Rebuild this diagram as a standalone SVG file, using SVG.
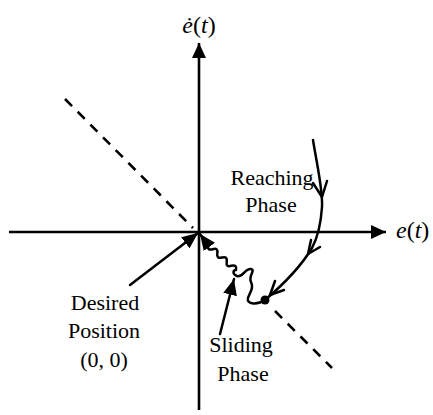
<svg xmlns="http://www.w3.org/2000/svg" width="433" height="415" viewBox="0 0 433 415">
<style>
.ln{fill:none;stroke:#000;stroke-width:2.6}
.thin{fill:none;stroke:#000;stroke-width:2.5;stroke-linecap:round;stroke-linejoin:round}
.dash{fill:none;stroke:#000;stroke-width:2.6;stroke-dasharray:10 8}
.t{font-family:"Liberation Serif","Times New Roman",serif;font-size:22px;fill:#000}
.m{font-family:"Liberation Serif","Times New Roman",serif;font-size:24px;fill:#000}
</style>
<defs>
<marker id="ah" markerUnits="userSpaceOnUse" markerWidth="16" markerHeight="14" refX="15" refY="7" orient="auto">
<path d="M0,0 L15,7 L0,14 Z" fill="#000"/>
</marker>
<marker id="ahs" markerUnits="userSpaceOnUse" markerWidth="17" markerHeight="14" refX="16" refY="7" orient="auto">
<path d="M0,0 L16,7 L0,14 Z" fill="#000"/>
</marker>
</defs>
<g id="axes">
<line class="ln" x1="9" y1="232" x2="386" y2="232" marker-end="url(#ah)"/>
<line class="ln" x1="199" y1="410" x2="199" y2="43" marker-end="url(#ah)"/>
<text class="m" x="396" y="238"><tspan font-style="italic">e</tspan>(<tspan font-style="italic">t</tspan>)</text>
<text class="m" x="199" y="33" text-anchor="middle"><tspan font-style="italic">ė</tspan>(<tspan font-style="italic">t</tspan>)</text>
</g>
<g id="sliding-surface">
<line class="dash" x1="65" y1="99" x2="193" y2="228"/>
<line class="dash" x1="275" y1="311" x2="332" y2="368"/>
</g>
<g id="connectors">
<path id="reaching-curve" class="thin" d="M313,140 C317,165 323,190 322,207 C321,222 319,235 312,248 C300,268 285,283 265,300"/>
<path class="thin" d="M313,183 L322,197 L327,181"/>
<path class="thin" d="M311,240 L308,254 L320,247"/>
<path class="thin" d="M275,281 L270,295 L284,290"/>
<path id="sliding-curve" class="thin" d="M265,300 C258,305 246,305 248,298 C250,292 254,288 251,282 C248,276 256,270 251,269 C245,268 243,278 237,276 C232,274 233,270 236,270 Q237,264.2 231.3,265.8 Q225.7,267.5 226.7,261.7 Q227.6,255.9 222,257.5 Q216.4,259.1 217.3,253.3 Q218.3,247.5 212.7,249.2 Q207,250.8 208,245 L200,234" marker-end="url(#ahs)"/>
<circle cx="265" cy="300" r="4.5" fill="#000"/>
<line class="thin" x1="130" y1="285" x2="198" y2="233" marker-end="url(#ahs)"/>
<line class="thin" x1="220" y1="334" x2="234" y2="279" marker-end="url(#ahs)"/>
</g>
<g id="label-reaching">
<text class="t" x="272" y="185" text-anchor="middle">Reaching</text>
<text class="t" x="271" y="212" text-anchor="middle">Phase</text>
</g>
<g id="label-desired">
<text class="t" x="105" y="310" text-anchor="middle">Desired</text>
<text class="t" x="104" y="338" text-anchor="middle">Position</text>
<text class="t" x="104" y="367" text-anchor="middle">(0, 0)</text>
</g>
<g id="label-sliding">
<text class="t" x="241" y="352" text-anchor="middle">Sliding</text>
<text class="t" x="243" y="381" text-anchor="middle">Phase</text>
</g>
</svg>
